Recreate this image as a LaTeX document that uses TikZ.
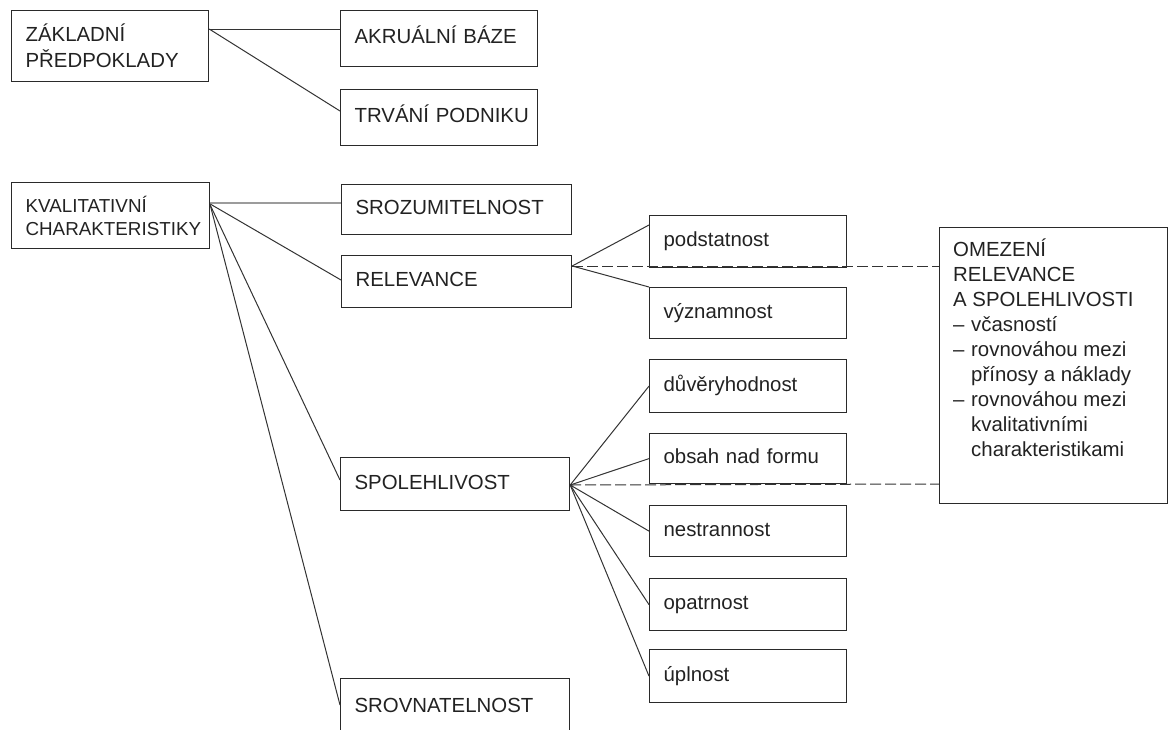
\documentclass[tikz,border=0pt]{standalone}
\usepackage{fontspec}
\setmainfont{Liberation Sans}
\definecolor{boxc}{HTML}{2A2A2A}
\definecolor{linec}{HTML}{333333}
\definecolor{lightc}{HTML}{9C9C9C}
\definecolor{txtc}{HTML}{222222}
\newcommand\mybxfont{\fontsize{20.4}{26}\selectfont}
\newcommand\mykcfont{\fontsize{18.8}{23}\selectfont}
\newcommand\myomfont{\fontsize{20.4}{24.9}\selectfont}
\begin{document}
\begin{tikzpicture}[x=1pt,y=-1pt,
  box/.style={draw=boxc, line width=1.2pt, anchor=north west, inner xsep=14pt, inner ysep=0pt,
    align=left, font=\mybxfont, text=txtc, text height=14pt, text depth=4pt},
  box2/.style={draw=boxc, line width=1.2pt, anchor=north west, inner xsep=14pt, inner ysep=0pt,
    align=left, text=txtc},
  conn/.style={draw=linec, line width=1pt},
  dconn/.style={conn, dash pattern=on 11pt off 4pt},
  lconn/.style={draw=lightc, line width=1.8pt},
]
\path[use as bounding box, clip] (0,0) rectangle (1168,729);

% top group
\node[box2, font=\mybxfont, text width=169pt, minimum height=71pt] (zp) at (11,10) {ZÁKLADNÍ\\PŘEDPOKLADY};
\node[box, text width=169pt, minimum height=56pt] (akr) at (340,10) {AKRUÁLNÍ BÁZE};
\node[box, text width=169pt, minimum height=56pt] (trv) at (340,89) {\mbox{TRVÁNÍ PODNIKU}};

% main group
\node[box2, font=\mykcfont, text width=170pt, minimum height=66pt] (kc) at (11,182) {\mbox{KVALITATIVNÍ}\\\mbox{CHARAKTERISTIKY}};
\node[box, text width=202pt, minimum height=50pt] (sroz) at (341,184) {SROZUMITELNOST};
\node[box, text width=202pt, minimum height=52pt] (rel) at (341,255) {RELEVANCE};
\node[box, text width=201pt, minimum height=53pt] (spol) at (340,457) {SPOLEHLIVOST};
\node[box, text width=201pt, minimum height=58pt] (srov) at (340,678) {SROVNATELNOST};

\node[box, text width=169pt, minimum height=52pt] (pod) at (649,215) {podstatnost};
\node[box, text width=169pt, minimum height=51pt] (vyz) at (649,287) {významnost};
\node[box, text width=169pt, minimum height=53pt] (duv) at (649,359) {důvěryhodnost};
\node[box, text width=169pt, minimum height=50pt] (obs) at (649,433) {obsah nad formu};
\node[box, text width=169pt, minimum height=51pt] (nes) at (649,505) {nestrannost};
\node[box, text width=169pt, minimum height=52pt] (opa) at (649,578) {opatrnost};
\node[box, text width=169pt, minimum height=53pt] (upl) at (649,649) {úplnost};

\node[draw=boxc, line width=1.2pt, anchor=north west, minimum width=228pt, minimum height=276pt, inner sep=0pt] (om) at (939,227) {};
\node[anchor=north west, inner sep=0pt, align=left, font=\myomfont, text=txtc] (omt) at ([xshift=14pt,yshift=-12pt]om.north west)
 {OMEZENÍ\\
  RELEVANCE\\
  A SPOLEHLIVOSTI\\
  \makebox[18pt][l]{–}včasností\\
  \makebox[18pt][l]{–}rovnováhou mezi\\
  \hspace*{18pt}přínosy a náklady\\
  \makebox[18pt][l]{–}rovnováhou mezi\\
  \hspace*{18pt}kvalitativními\\
  \hspace*{18pt}charakteristikami};

% connectors: top group
\draw[conn] ([yshift=-19pt]zp.north east) -- ([yshift=-19pt]akr.north west);
\draw[conn] ([yshift=-19pt]zp.north east) -- ([yshift=-22pt]trv.north west);

% connectors: main group
\draw[lconn] ([yshift=-21pt]kc.north east) -- ([yshift=-19pt]sroz.north west);
\draw[conn] ([yshift=-22pt]kc.north east) -- ([yshift=-25pt]rel.north west);
\draw[conn] ([yshift=-23pt]kc.north east) -- ([yshift=-23pt]spol.north west);
\draw[conn] ([yshift=-23pt]kc.north east) -- ([yshift=-27pt]srov.north west);

% relevance fan
\draw[conn] ([yshift=-11pt]rel.north east) -- ([yshift=-10pt]pod.north west);
\draw[conn] ([yshift=-11pt]rel.north east) -- (vyz.north west);
\draw[dconn] ([yshift=-11pt]rel.north east) -- ([yshift=-39pt]om.north west);

% spolehlivost fan
\draw[conn] ([yshift=-28pt]spol.north east) -- (duv.west);
\draw[conn] ([yshift=-28pt]spol.north east) -- (obs.west);
\draw[conn] ([yshift=-28pt]spol.north east) -- (nes.west);
\draw[conn] ([yshift=-28pt]spol.north east) -- (opa.west);
\draw[conn] ([yshift=-28pt]spol.north east) -- (upl.west);
\draw[dconn] ([yshift=-28pt]spol.north east) -- ([yshift=-257pt]om.north west);
\end{tikzpicture}
\end{document}
